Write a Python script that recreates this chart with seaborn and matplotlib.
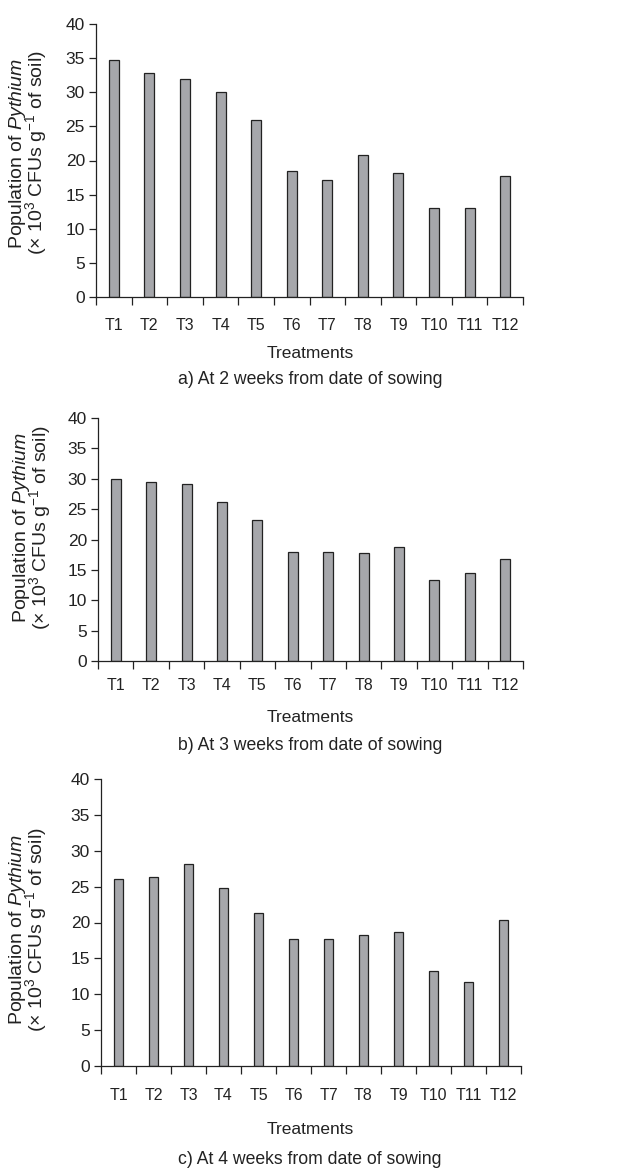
import matplotlib
matplotlib.use("Agg")
import matplotlib.pyplot as plt
import seaborn as sns
import pandas as pd
import numpy as np

treatments = ["T1", "T2", "T3", "T4", "T5", "T6", "T7", "T8", "T9", "T10", "T11", "T12"]
week2 = [34.7, 32.8, 32.0, 30.1, 26.0, 18.4, 17.1, 20.8, 18.1, 13.1, 13.0, 17.8]
week3 = [30.0, 29.4, 29.1, 26.1, 23.2, 17.9, 18.0, 17.7, 18.7, 13.3, 14.5, 16.8]
week4 = [26.0, 26.3, 28.2, 24.8, 21.3, 17.7, 17.7, 18.2, 18.7, 13.3, 11.7, 20.3]
captions = ["a) At 2 weeks from date of sowing",
            "b) At 3 weeks from date of sowing",
            "c) At 4 weeks from date of sowing"]
yticks = [0, 5, 10, 15, 20, 25, 30, 35, 40]

sns.set_theme(style="ticks")
plt.rcParams["font.family"] = ["Liberation Sans", "DejaVu Sans"]
plt.rcParams["mathtext.fontset"] = "custom"
plt.rcParams["mathtext.rm"] = "Liberation Sans"
plt.rcParams["mathtext.it"] = "Liberation Sans:italic"
plt.rcParams["text.color"] = "#222222"
INK = "#222222"

W, H = 632, 1171
fig = plt.figure(figsize=(W / 100, H / 100), dpi=100)

# (left px, right px, top px, zero px, tick pad pt, treatments y, caption y,
#  ylabel right-edge px, ylabel vertical centre as axes fraction)
layouts = [
    (96, 523, 24, 297, 15, 353, 380, 49, 0.527),
    (98, 523, 418, 661, 12, 718, 745, 53, 0.547),
    (101, 521, 779, 1066, 16, 1130, 1160, 49, 0.474),
]
series = [week2, week3, week4]

for (l, r, t, b, pad, ty, cy, lx, ly), vals, cap in zip(layouts, series, captions):
    ax = fig.add_axes([l / W, 1 - b / H, (r - l) / W, (b - t) / H])
    df = pd.DataFrame({"Treatment": treatments, "Value": vals})
    sns.barplot(data=df, x="Treatment", y="Value", ax=ax, color="#a6a7ab",
                saturation=1, width=0.28, edgecolor=INK, linewidth=0.9)
    ax.set_ylim(0, 40)
    ax.set_xlim(-0.5, len(treatments) - 0.5)
    ax.set_yticks(yticks)
    ax.set_yticklabels([str(v) for v in yticks], fontsize=12.5, color=INK)
    ax.set_xticks(np.arange(len(treatments)))
    ax.set_xticklabels(treatments, fontsize=11.5, color=INK)
    ax.tick_params(axis="x", which="major", length=0, pad=pad)
    ax.set_xticks(np.arange(len(treatments) + 1) - 0.5, minor=True)
    ax.tick_params(axis="x", which="minor", length=6, width=0.9, color=INK, direction="out")
    ax.tick_params(axis="y", length=5, width=0.9, color=INK, pad=3)
    sns.despine(ax=ax)
    for s in ("left", "bottom"):
        ax.spines[s].set_linewidth(0.9)
        ax.spines[s].set_color(INK)
    ax.set_xlabel("")
    ax.set_ylabel("Population of $\\it{Pythium}$\n(× 10$^{3}$ CFUs g$^{-1}$ of soil)",
                  fontsize=14, linespacing=0.72, color=INK)
    ax.yaxis.set_label_coords(-(l - lx) / (r - l), ly)
    fig.text(310 / W, 1 - ty / H, "Treatments", ha="center", va="center",
             fontsize=12.5)
    fig.text(310 / W, 1 - cy / H, cap, ha="center", va="center",
             fontsize=12.7)

fig.savefig("out.png", dpi=100, facecolor="white")
